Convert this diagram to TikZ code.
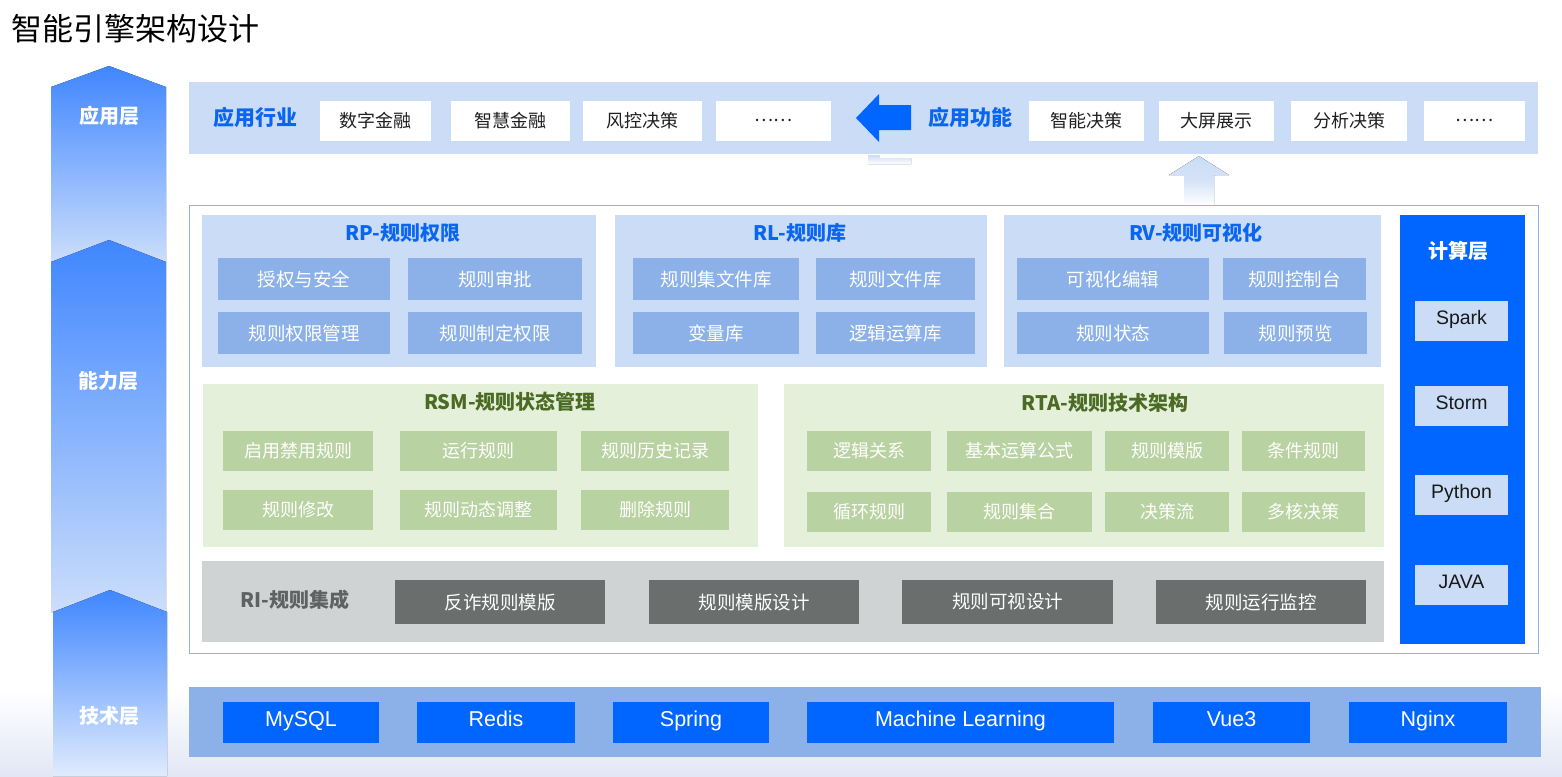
\documentclass[tikz,border=0pt]{standalone}
\usepackage{fontspec}
\setmainfont{Noto Sans CJK SC}
\newfontfamily\latinfont{Liberation Sans}
\usepackage{xcolor}
\usetikzlibrary{positioning}
\definecolor{bandbg}{HTML}{CADCF6}
\definecolor{subblue}{HTML}{8BB1E8}
\definecolor{ttlblue}{HTML}{0A66F0}
\definecolor{strong}{HTML}{0066FF}
\definecolor{greenbg}{HTML}{E5F0DA}
\definecolor{subgreen}{HTML}{B9D2A1}
\definecolor{ttlgreen}{HTML}{4B6B25}
\definecolor{graybg}{HTML}{CFD3D4}
\definecolor{subgray}{HTML}{6A6F6E}
\definecolor{ttlgray}{HTML}{5E6262}
\definecolor{framec}{HTML}{8FB3EA}
\definecolor{arrtop}{HTML}{3F86FF}
\definecolor{arrbot}{HTML}{CCDEFB}
\definecolor{bgbot}{HTML}{E2E7F5}
\tikzset{
  sz/.style 2 args = {minimum width=#1pt, minimum height=#2pt},
  panel/.style = {inner sep=0pt, outer sep=0pt},
  wbox/.style  = {fill=white, inner sep=0pt, text=black!88, font=\fontsize{18}{20}\selectfont},
  bsub/.style  = {fill=subblue, inner sep=0pt, text=white, font=\fontsize{18.5}{20}\selectfont},
  gsub/.style  = {fill=subgreen, inner sep=0pt, text=white, font=\fontsize{18}{20}\selectfont},
  dsub/.style  = {fill=subgray, inner sep=0pt, text=white, font=\fontsize{18.5}{20}\selectfont},
  csub/.style  = {fill=bandbg, inner sep=0pt, text=black!90, text height=0.72em, text depth=0pt,
                  font=\latinfont\fontsize{19.5}{21}\selectfont},
  tsub/.style  = {fill=strong, inner sep=0pt, text=white, text height=0.72em, text depth=0pt,
                  font=\latinfont\fontsize{21.5}{23}\selectfont},
  ttl/.style   = {inner sep=0pt, font=\bfseries\fontsize{20}{22}\selectfont},
  layer/.style = {inner sep=0pt, text=white, font=\bfseries\fontsize{20}{22}\selectfont},
}

\begin{document}
\begin{tikzpicture}[x=1pt, y=-1pt]
  \useasboundingbox (0,0) rectangle (1562,776);
  \fill[top color=white, bottom color=bgbot] (0,690) rectangle (1562,776);
  % title
  \node[anchor=west, inner sep=0pt, font=\fontsize{31}{33}\selectfont] (title) at (11,29) {智能引擎架构设计};
  % layer column
  \fill[top color=arrtop, bottom color=arrbot] (51,87) -- (109,66) -- (166,87) -- (166,262) -- (51,262) -- cycle;
  \fill[top color=arrtop, bottom color=arrbot] (51,262) -- (109,240) -- (166,262) -- (166,612) -- (51,612) -- cycle;
  \fill[top color=arrtop, bottom color=arrbot!60!white] (53,612) -- (110,590) -- (167,612) -- (167,776) -- (53,776) -- cycle;
  \node[layer] (lapp) at (109,116) {应用层};
  \node[layer] (lcap) at (108,381) {能力层};
  \node[layer] (ltec) at (109,716) {技术层};

  % application band
  \node[panel, fill=bandbg, sz={1349}{72}] (app) at (863.5,118) {};
  \node[ttl, text=ttlblue, font=\bfseries\fontsize{21}{23}\selectfont] (ind) at (255,117) {应用行业};
  \node[wbox, sz={111}{40}] (ind1) at (375.5,120.5) {数字金融};
  \node[wbox, sz={119}{40}] (ind2) at (510.5,120.5) {智慧金融};
  \node[wbox, sz={119}{40}] (ind3) at (642.5,120.5) {风控决策};
  \node[wbox, sz={115}{40}] (ind4) at (773.5,120.5) {……};
  \node[ttl, text=ttlblue, font=\bfseries\fontsize{21}{23}\selectfont] (fun) at (970,117) {应用功能};
  \node[wbox, sz={115}{40}] (fun1) at (1086.5,120.5) {智能决策};
  \node[wbox, sz={115}{40}] (fun2) at (1216.5,120.5) {大屏展示};
  \node[wbox, sz={116}{40}] (fun3) at (1349,120.5) {分析决策};
  \node[wbox, sz={101}{40}] (fun4) at (1474.5,120.5) {……};
  \fill[strong] (856,118) -- (879,94) -- (879,105) -- (911,105) -- (911,130) -- (879,130) -- (879,142) -- cycle;
  \fill[top color=subblue!45, bottom color=white] (868,155) -- (879,155) -- (879,158) -- (911,158) -- (911,164) -- (868,164) -- cycle;
  \fill[top color=bandbg, bottom color=white, middle color=bandbg!80] (1199,156) -- (1229,175) -- (1214,175) -- (1214,205) -- (1184,205) -- (1184,175) -- (1169,175) -- cycle;

  % capability frame
  \node[panel, draw=framec, line width=1pt, fill=white, sz={1349}{448}] (cap) at (863.5,429) {};

  \node[panel, fill=bandbg, sz={394}{152}] (rp) at (399,291) {};
  \node[ttl, text=ttlblue] (rpt) at (403,233) {RP-规则权限};
  \node[bsub, sz={172}{42}] (rp1) at (304,279) {授权与安全};
  \node[bsub, sz={174}{42}] (rp2) at (495,279) {规则审批};
  \node[bsub, sz={172}{42}] (rp3) at (304,333) {规则权限管理};
  \node[bsub, sz={174}{42}] (rp4) at (495,333) {规则制定权限};

  \node[panel, fill=bandbg, sz={372}{152}] (rl) at (801,291) {};
  \node[ttl, text=ttlblue] (rlt) at (800,233) {RL-规则库};
  \node[bsub, sz={166}{42}] (rl1) at (716,279) {规则集文件库};
  \node[bsub, sz={159}{42}] (rl2) at (895.5,279) {规则文件库};
  \node[bsub, sz={166}{42}] (rl3) at (716,333) {变量库};
  \node[bsub, sz={159}{42}] (rl4) at (895.5,333) {逻辑运算库};

  \node[panel, fill=bandbg, sz={377}{152}] (rv) at (1192.5,291) {};
  \node[ttl, text=ttlblue] (rvt) at (1196,233) {RV-规则可视化};
  \node[bsub, sz={192}{42}] (rv1) at (1113,279) {可视化编辑};
  \node[bsub, sz={143}{42}] (rv2) at (1294.5,279) {规则控制台};
  \node[bsub, sz={192}{42}] (rv3) at (1113,333) {规则状态};
  \node[bsub, sz={143}{42}] (rv4) at (1295.5,333) {规则预览};

  \node[panel, fill=greenbg, sz={555}{163}] (rsm) at (480.5,465.5) {};
  \node[ttl, text=ttlgreen] (rsmt) at (510,402) {RSM-规则状态管理};
  \node[gsub, sz={150}{40}] (rsm1) at (298,451) {启用禁用规则};
  \node[gsub, sz={157}{40}] (rsm2) at (478.5,451) {运行规则};
  \node[gsub, sz={148}{40}] (rsm3) at (655,451) {规则历史记录};
  \node[gsub, sz={150}{40}] (rsm4) at (298,510) {规则修改};
  \node[gsub, sz={157}{40}] (rsm5) at (478.5,510) {规则动态调整};
  \node[gsub, sz={148}{40}] (rsm6) at (655,510) {删除规则};

  \node[panel, fill=greenbg, sz={600}{163}] (rta) at (1084,465.5) {};
  \node[ttl, text=ttlgreen] (rtat) at (1105,403) {RTA-规则技术架构};
  \node[gsub, sz={124}{40}] (rta1) at (869,451) {逻辑关系};
  \node[gsub, sz={145}{40}] (rta2) at (1019.5,451) {基本运算公式};
  \node[gsub, sz={124}{40}] (rta3) at (1167,451) {规则模版};
  \node[gsub, sz={123}{40}] (rta4) at (1303.5,451) {条件规则};
  \node[gsub, sz={124}{40}] (rta5) at (869,512) {循环规则};
  \node[gsub, sz={145}{40}] (rta6) at (1019.5,512) {规则集合};
  \node[gsub, sz={124}{40}] (rta7) at (1167,512) {决策流};
  \node[gsub, sz={123}{40}] (rta8) at (1303.5,512) {多核决策};

  \node[panel, fill=graybg, sz={1182}{81}] (ri) at (793,601.5) {};
  \node[ttl, text=ttlgray] (rit) at (295,600) {RI-规则集成};
  \node[dsub, sz={210}{44}] (ri1) at (500,602) {反诈规则模版};
  \node[dsub, sz={210}{44}] (ri2) at (754,602) {规则模版设计};
  \node[dsub, sz={211}{44}] (ri3) at (1007.5,602) {规则可视设计};
  \node[dsub, sz={210}{44}] (ri4) at (1261,602) {规则运行监控};

  % compute layer
  \node[panel, fill=strong, sz={125}{429}] (cmp) at (1462.5,429.5) {};
  \node[layer] (cmpt) at (1458,251) {计算层};
  \node[csub, sz={93}{40}] (cmp1) at (1461.5,321) {Spark};
  \node[csub, sz={93}{40}] (cmp2) at (1461.5,406) {Storm};
  \node[csub, sz={93}{40}] (cmp3) at (1461.5,495) {Python};
  \node[csub, sz={93}{40}] (cmp4) at (1461.5,585) {JAVA};

  % technology band
  \node[panel, fill=subblue, sz={1352}{70}] (tec) at (865,722) {};
  \node[tsub, sz={156}{41}] (tec1) at (301,722.5) {MySQL};
  \node[tsub, sz={158}{41}] (tec2) at (496,722.5) {Redis};
  \node[tsub, sz={156}{41}] (tec3) at (691,722.5) {Spring};
  \node[tsub, sz={307}{41}] (tec4) at (960.5,722.5) {Machine Learning};
  \node[tsub, sz={157}{41}] (tec5) at (1231.5,722.5) {Vue3};
  \node[tsub, sz={158}{41}] (tec6) at (1428,722.5) {Nginx};
\end{tikzpicture}
\end{document}
